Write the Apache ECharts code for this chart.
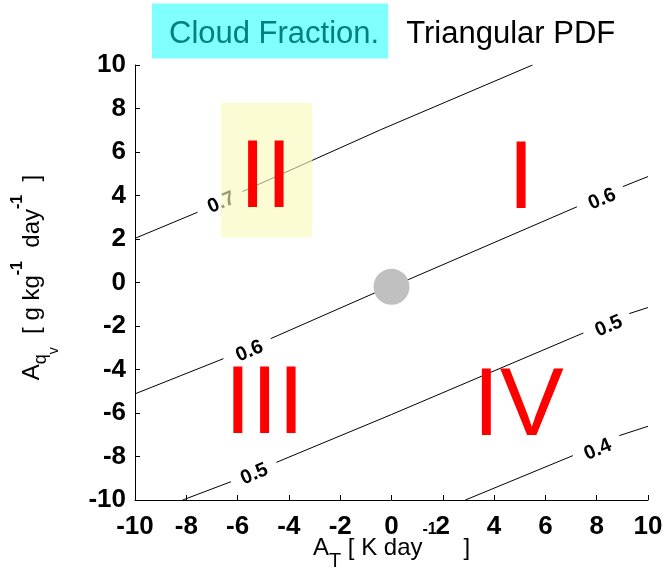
<!DOCTYPE html>
<html>
<head>
<meta charset="utf-8">
<script src="https://cdn.jsdelivr.net/npm/echarts@6/dist/echarts.min.js"></script>
<style>
html,body{margin:0;padding:0;background:#fff;}
#chart{width:669px;height:577px;}
</style>
</head>
<body>
<div id="chart"></div>
<script>
// ---- data ----
const xTicks = [-10, -8, -6, -4, -2, 0, 2, 4, 6, 8, 10];
const yTicks = [-10, -8, -6, -4, -2, 0, 2, 4, 6, 8, 10];

// contour segments (gaps where inline labels sit)
const contour07 = [
  [[-10, 2.03], [-7.56, 3.23]],
  [[-5.81, 4.18], [-0.43, 7.02], [5.5, 10]]
];
const contour06 = [
  [[-10, -5.12], [-6.55, -3.5]],
  [[-4.71, -2.58], [-0.56, -0.43], [0.67, 0.14], [7.23, 3.48]],
  [[9.02, 4.41], [10, 4.87]]
];
const contour05 = [
  [[-8.14, -10], [-6.26, -9.16]],
  [[-4.49, -8.27], [0.0, -6.07], [7.48, -2.32]],
  [[9.27, -1.43], [10, -1.15]]
];
const contour04 = [
  [[2.88, -10], [7.07, -7.96]],
  [[8.88, -7.04], [10, -6.61]]
];

// inline contour labels
const contourLabelText = ['0.7', '0.6', '0.6', '0.5', '0.5', '0.4'];
const contourLabelX = [-6.65, 8.2, -5.55, -5.36, 8.46, 8.03];
const contourLabelY = [3.71, 3.87, -3.12, -8.77, -1.97, -7.65];

// quadrant numerals
const quadrantText = ['I', 'II', 'III', 'IV'];
const quadrantX = [5.05, -4.9, -4.95, 4.95];
const quadrantY = [5.05, 5.1, -5.3, -5.4];

// highlighted box [xmin, xmax, ymin, ymax]
const highlightBox = [-6.65, -3.09, 2.07, 8.25];

// origin marker
const originPoint = [0, -0.2];

// ---- build ----
const chart = echarts.init(document.getElementById('chart'));
const FONT = 'Liberation Sans, Arial, Helvetica, sans-serif';

const series = [];
[contour07, contour06, contour05, contour04].forEach(function (segs) {
  segs.forEach(function (seg) {
    series.push({
      type: 'line',
      data: seg,
      symbol: 'none',
      silent: true,
      z: 2,
      lineStyle: { color: '#000', width: 1 }
    });
  });
});

series.push({
  type: 'scatter',
  z: 3,
  silent: true,
  symbolSize: 1,
  itemStyle: { color: 'rgba(0,0,0,0)', opacity: 1 },
  data: contourLabelText.map(function (t, i) {
    return { value: [contourLabelX[i], contourLabelY[i]], name: t };
  }),
  label: {
    show: true,
    position: 'inside',
    formatter: function (p) { return p.name; },
    rotate: 23,
    offset: [0, 1],
    color: '#000',
    opacity: 1,
    fontFamily: FONT,
    fontWeight: 'bold',
    fontSize: 20
  }
});

series.push({
  type: 'custom',
  z: 4,
  silent: true,
  data: [highlightBox],
  renderItem: function (params, api) {
    const p0 = api.coord([api.value(0), api.value(3)]);
    const p1 = api.coord([api.value(1), api.value(2)]);
    return {
      type: 'rect',
      shape: { x: p0[0], y: p0[1], width: p1[0] - p0[0], height: p1[1] - p0[1] },
      style: { fill: 'rgba(248,248,185,0.62)' }
    };
  }
});

series.push({
  type: 'scatter',
  z: 5,
  silent: true,
  symbolSize: 1,
  itemStyle: { color: 'rgba(0,0,0,0)', opacity: 1 },
  data: quadrantText.map(function (t, i) {
    return { value: [quadrantX[i], quadrantY[i]], name: t };
  }),
  label: {
    show: true,
    position: 'inside',
    offset: [0, 9],
    formatter: function (p) { return p.name; },
    color: '#ff0000',
    opacity: 1,
    fontFamily: FONT,
    fontSize: 96
  }
});

series.push({
  type: 'scatter',
  z: 6,
  silent: true,
  symbol: 'circle',
  symbolSize: 36,
  itemStyle: { color: '#c0c0c0', opacity: 1 },
  data: [originPoint]
});

const option = {
  animation: false,
  backgroundColor: '#fff',
  title: {
    left: 152,
    top: 13,
    padding: 0,
    text: '{a|Cloud Fraction.}{b|Triangular PDF}',
    textStyle: {
      fontWeight: 'normal',
      rich: {
        a: {
          fontFamily: FONT, fontSize: 31, fontWeight: 'normal', color: '#008080',
          backgroundColor: '#80ffff', lineHeight: 36,
          padding: [15, 9, 9, 17]
        },
        b: {
          fontFamily: FONT, fontSize: 31, fontWeight: 'normal', color: '#000',
          lineHeight: 36, padding: [6, 0, 0, 18]
        }
      }
    }
  },
  grid: { left: 135, right: 21, top: 65, bottom: 77, containLabel: false },
  xAxis: {
    type: 'value',
    min: xTicks[0], max: xTicks[xTicks.length - 1], interval: 2,
    splitLine: { show: false },
    axisLine: { show: true, onZero: false, lineStyle: { color: '#000', width: 1 } },
    axisTick: { show: true, inside: true, length: 5, lineStyle: { color: '#000' } },
    axisLabel: { color: '#000', fontFamily: FONT, fontWeight: 'bold', fontSize: 26, margin: 14 },
    name: '{m|A}{s|T}{m| [ K day}{p|-1}{m|    ]}',
    nameLocation: 'middle',
    nameGap: 20,
    nameMoveOverlap: false,
    nameTextStyle: {
      rich: {
        m: { fontFamily: FONT, fontSize: 24, color: '#000', lineHeight: 24, verticalAlign: 'top', padding: [16, 0, 0, 0] },
        s: { fontFamily: FONT, fontSize: 20, color: '#000', lineHeight: 20, verticalAlign: 'top', padding: [31, 0, 0, 0] },
        p: { fontFamily: FONT, fontSize: 16, color: '#000', fontWeight: 'bold', lineHeight: 16, verticalAlign: 'top', padding: [2, 0, 0, 0] }
      }
    }
  },
  yAxis: {
    type: 'value',
    min: yTicks[0], max: yTicks[yTicks.length - 1], interval: 2,
    splitLine: { show: false },
    axisLine: { show: true, onZero: false, lineStyle: { color: '#000', width: 1 } },
    axisTick: { show: true, inside: true, length: 5, lineStyle: { color: '#000' } },
    axisLabel: { color: '#000', fontFamily: FONT, fontWeight: 'bold', fontSize: 26, margin: 9 },
    name: '{a|A}{q|q}{v|v}{m|  [ g kg}{p|-1}{m|  day}{p|-1}{m|  ]}',
    nameLocation: 'middle',
    nameGap: 101,
    nameMoveOverlap: false,
    nameTextStyle: {
      rich: {
        a: { fontFamily: FONT, fontSize: 24, color: '#000', lineHeight: 24, verticalAlign: 'top', padding: [10, 0, 0, 10] },
        m: { fontFamily: FONT, fontSize: 24, color: '#000', lineHeight: 24, verticalAlign: 'top', padding: [10, 0, 0, 0] },
        q: { fontFamily: FONT, fontSize: 18, color: '#000', lineHeight: 18, verticalAlign: 'top', padding: [22, 0, 0, 0] },
        v: { fontFamily: FONT, fontSize: 14, color: '#000', lineHeight: 14, verticalAlign: 'top', padding: [37, 0, 0, 0] },
        p: { fontFamily: FONT, fontSize: 16, color: '#000', fontWeight: 'bold', lineHeight: 16, verticalAlign: 'top', padding: [0, 0, 0, 0] }
      }
    }
  },
  series: series
};
chart.setOption(option);
</script>
</body>
</html>
